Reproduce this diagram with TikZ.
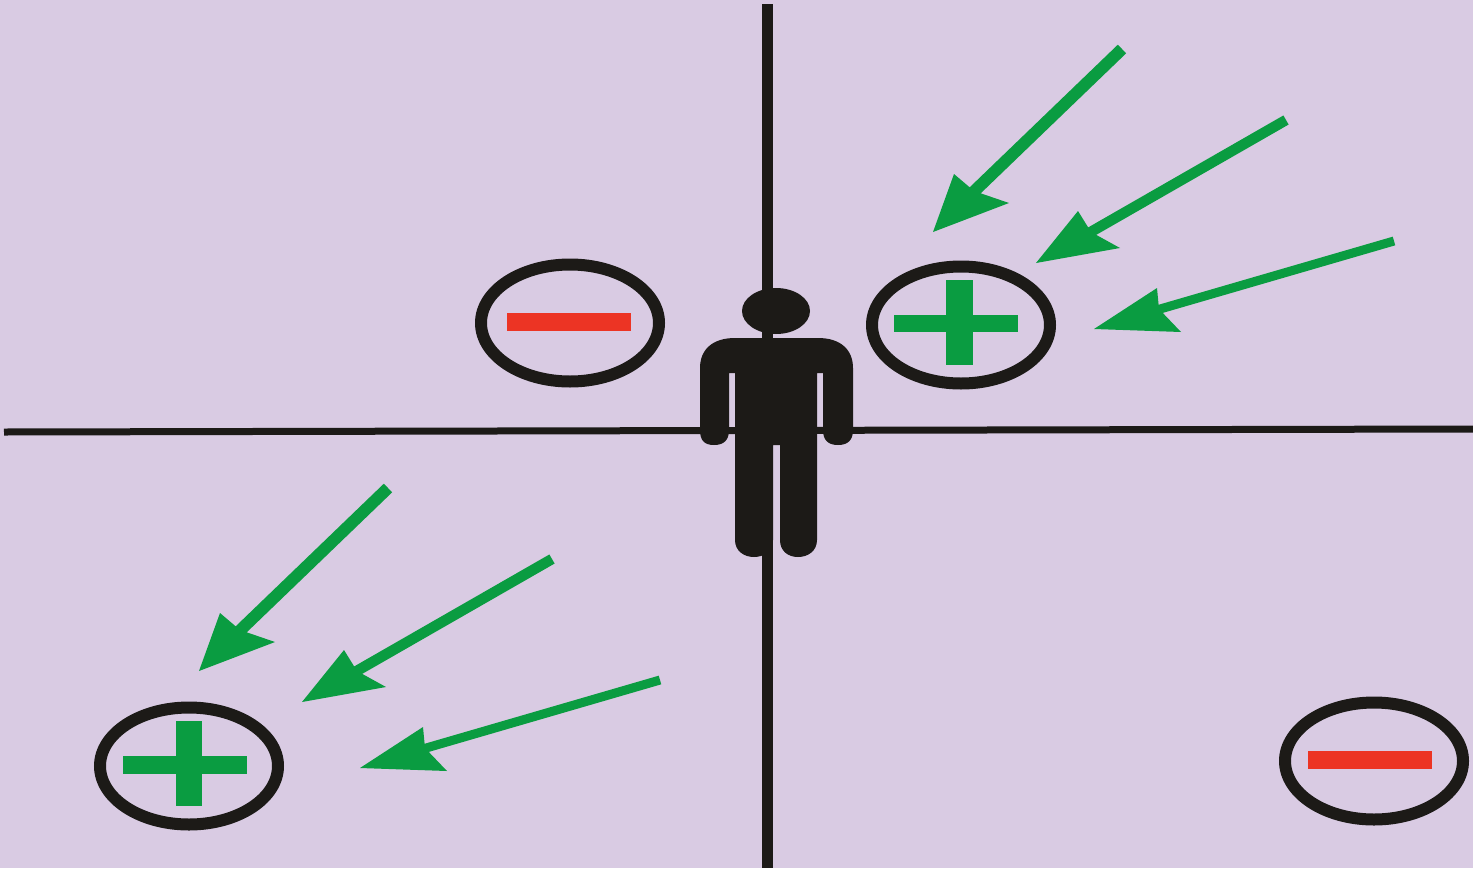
\documentclass[tikz,border=0pt]{standalone}
\usepackage{xcolor}
\definecolor{backdrop}{RGB}{217, 203, 227}
\definecolor{ink}{RGB}{28, 26, 23}
\definecolor{plusgreen}{RGB}{10, 156, 65}
\definecolor{minusred}{RGB}{236, 52, 36}
\usetikzlibrary{calc}
\tikzset{
    ring/.style={draw=ink, line width=12pt},
    plusbar/.style={fill=plusgreen},
    minusbar/.style={fill=minusred},
    axisline/.style={ink, line width=#1}
}
% tail, tip, two wings, notch, stem width
\newcommand{\rayarrow}[6]{%
    \draw[plusgreen, line width=#6] #1 -- ($#5!0.3!#2$);
    \fill[plusgreen] #2 -- #3 -- #5 -- #4 -- cycle;
}
\newcommand{\rayfan}{%
    \rayarrow{(1122, 49)}{(933, 232)}{(954, 174)}{(1009, 203)}{(974, 191)}{12pt}
    \rayarrow{(1286, 120)}{(1036, 263)}{(1078, 211)}{(1120, 248)}{(1091, 232)}{10.5pt}
    \rayarrow{(1394, 241)}{(1094, 329)}{(1157, 288)}{(1181, 332)}{(1159, 309)}{9pt}
}

\begin{document}
\begin{tikzpicture}[x=1pt, y=-1pt]
    \useasboundingbox (0, 0) rectangle (1473, 868);
    \fill[backdrop] (0, 0) rectangle (1473, 868);

    % Axes
    \draw[axisline=11pt] (767.5, 4) -- (767.5, 868);
    \draw[axisline=7pt] (4, 432) -- (1473, 429);

    % Person
    \fill[ink] (776, 311) ellipse [x radius=34, y radius=23];
    \fill[ink] (700, 368) .. controls (700, 350) and (712, 338) .. (735, 338)
        -- (818, 338) .. controls (841, 338) and (853, 350) .. (853, 368)
        -- (853, 430) .. controls (853, 440) and (848, 445) .. (838, 445)
        .. controls (828, 445) and (823, 440) .. (823, 430)
        -- (823, 373) -- (817, 373) -- (817, 540)
        .. controls (817, 551) and (808, 557) .. (798, 557)
        .. controls (788, 557) and (780, 551) .. (780, 540)
        -- (780, 445) -- (773, 445) -- (773, 540)
        .. controls (773, 551) and (764, 557) .. (754, 557)
        .. controls (744, 557) and (735, 551) .. (735, 540)
        -- (735, 373) -- (729, 373) -- (729, 430)
        .. controls (729, 440) and (724, 445) .. (714, 445)
        .. controls (704, 445) and (700, 440) .. (700, 430) -- cycle;

    % Minus, upper left
    \draw[ring] (570, 323) ellipse [x radius=89, y radius=58.5];
    \fill[minusbar] (507, 313) rectangle (631, 331);

    % Plus, upper right
    \draw[ring] (961, 325) ellipse [x radius=89, y radius=58.5];
    \fill[plusbar] (894, 315) rectangle (1018, 332);
    \fill[plusbar] (946, 280) rectangle (973, 365);

    % Plus, lower left
    \draw[ring] (189, 766) ellipse [x radius=89, y radius=58.5];
    \fill[plusbar] (123, 756) rectangle (247, 774);
    \fill[plusbar] (176, 721) rectangle (202, 806);

    % Minus, lower right
    \draw[ring] (1374, 761) ellipse [x radius=89, y radius=58.5];
    \fill[minusbar] (1308, 751) rectangle (1432, 769);

    % Rays towards the upper plus
    \rayfan

    % Rays towards the lower plus
    \begin{scope}[shift={(-734, 439)}]
        \rayfan
    \end{scope}
\end{tikzpicture}
\end{document}
